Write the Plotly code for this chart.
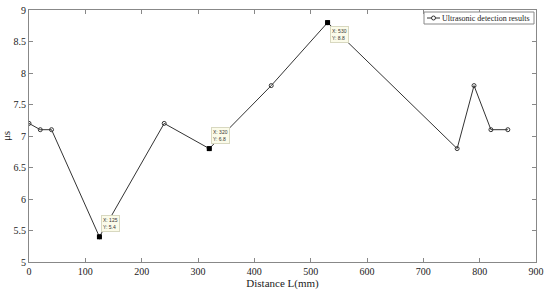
import plotly.graph_objects as go

distance = [0, 20, 40, 125, 240, 320, 430, 530, 760, 790, 820, 850]
time_us = [7.2, 7.1, 7.1, 5.4, 7.2, 6.8, 7.8, 8.8, 6.8, 7.8, 7.1, 7.1]

tip_x = [125, 320, 530]
tip_y = [5.4, 6.8, 8.8]
tip_below = [False, False, True]

series_name = "Ultrasonic detection results"

FONT = "Liberation Serif"
LINE = "#333333"

fig = go.Figure()
fig.add_trace(go.Scatter(
    x=distance, y=time_us, mode="lines+markers",
    name=series_name, showlegend=False,
    line=dict(color=LINE, width=1),
    marker=dict(symbol="circle-open", size=4, color=LINE, line=dict(width=1)),
))
fig.add_trace(go.Scatter(
    x=tip_x, y=tip_y, mode="markers", showlegend=False,
    marker=dict(symbol="square", size=5, color="black"),
))

for xv, yv, below in zip(tip_x, tip_y, tip_below):
    fig.add_annotation(
        x=xv, y=yv, xref="x", yref="y",
        text=f"X: {xv}<br>Y: {yv}",
        showarrow=False, align="left",
        xanchor="left", yanchor="top" if below else "bottom",
        xshift=2, yshift=-3 if below else 5,
        font=dict(family="Arial", size=5, color="#333333"),
        bgcolor="#fbfbe9", bordercolor="#d8d8c0", borderwidth=1, borderpad=1,
    )

# manual compact legend (MATLAB-like); plot area spans x 29..536, y 10..262
PW, PH = 507.0, 252.0
def px(xp):
    return (xp - 29) / PW
def py(yp):
    return 1 - (yp - 10) / PH

fig.add_shape(type="rect", xref="paper", yref="paper",
              x0=px(424), x1=px(534), y0=py(24), y1=py(12),
              line=dict(color="#888888", width=1), fillcolor="white", layer="above")
fig.add_shape(type="line", xref="paper", yref="paper",
              x0=px(427), x1=px(440), y0=py(18), y1=py(18),
              line=dict(color=LINE, width=1), layer="above")
fig.add_shape(type="circle", xref="paper", yref="paper",
              xsizemode="pixel", ysizemode="pixel",
              xanchor=px(433.5), yanchor=py(18),
              x0=-2, x1=2, y0=-2, y1=2,
              line=dict(color=LINE, width=1), fillcolor="white", layer="above")
fig.add_annotation(xref="paper", yref="paper", x=px(440), y=py(18),
                   xanchor="left", yanchor="middle", showarrow=False,
                   text=series_name, font=dict(family=FONT, size=8, color="#222222"))

axis_common = dict(
    showline=True, linecolor="#888888", linewidth=1, mirror="ticks",
    ticks="inside", ticklen=4, tickcolor="#888888",
    showgrid=False, zeroline=False, automargin=False,
    tickfont=dict(family=FONT, size=10, color="#222222"),
)

fig.update_layout(
    width=550, height=296,
    margin=dict(l=29, r=14, t=10, b=34),
    paper_bgcolor="white", plot_bgcolor="white",
    font=dict(family=FONT, color="#222222"),
    showlegend=False,
    xaxis=dict(range=[0, 900], dtick=100, title=dict(text="Distance L(mm)", font=dict(size=11), standoff=3), **axis_common),
    yaxis=dict(range=[5, 9], dtick=0.5, title=dict(text="μs", font=dict(size=11), standoff=4), **axis_common),
)

fig.write_html("out.html", config={"displayModeBar": False},
               post_script="document.body.style.margin='0';")
